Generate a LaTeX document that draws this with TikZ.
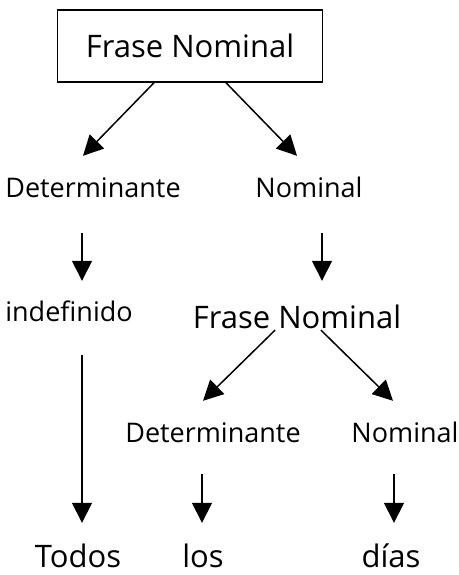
\documentclass[tikz,border=0pt]{standalone}
\usepackage{fontspec}
\setmainfont{Open Sans}
\usetikzlibrary{arrows.meta}
\begin{document}
\begin{tikzpicture}[x=1pt,y=-1pt,
    lbl/.style={inner sep=0pt,text height=20pt,text depth=0pt,anchor=base,font=\fontsize{27}{32}\selectfont},
    big/.style={lbl,font=\fontsize{31}{36}\selectfont},
    arr/.style={line width=1.5pt,-{Triangle[length=20pt,width=20pt]}}]
      \useasboundingbox (0,0) rectangle (458,575);
      % Nodes: top level
      \node[draw,line width=1.5pt,minimum width=265pt,minimum height=72pt,inner sep=0pt,font=\fontsize{31}{36}\selectfont] (FN1) at (190,46) {Frase Nominal};
      \node[lbl] (Det1) at (93,197) {Determinante};
      \node[lbl] (Nom1) at (309,197) {Nominal};
      % Nodes: middle level
      \node[lbl] (Ind) at (69,321) {indefinido};
      \node[big] (FN2) at (297,328) {Frase Nominal};
      \node[lbl] (Det2) at (213,442) {Determinante};
      \node[lbl] (Nom2) at (405,442) {Nominal};
      % Nodes: words
      \node[big] (Todos) at (78,567) {Todos};
      \node[big] (los) at (203,567) {los};
      \node[big] (dias) at (391,567) {días};
      % Arrows: level 1 to 2
      \draw[arr] ([xshift=-36pt]FN1.south) -- ([xshift=-10pt,yshift=21pt]Det1.north);
      \draw[arr] ([xshift=36pt]FN1.south) -- ([xshift=-12pt,yshift=21pt]Nom1.north);
      % Arrows: level 2 to 3
      \draw[arr] ([xshift=-11pt,yshift=-36pt]Det1.south) -- ([xshift=13pt,yshift=20pt]Ind.north);
      \draw[arr] ([xshift=13pt,yshift=-36pt]Nom1.south) -- ([xshift=25pt,yshift=27pt]FN2.north);
      % Arrows: level 3 down
      \draw[arr] ([xshift=13pt,yshift=-34pt]Ind.south) -- ([xshift=4pt,yshift=24pt]Todos.north);
      \draw[arr] ([xshift=-22pt,yshift=-2pt]FN2.south) -- ([xshift=-10pt,yshift=21pt]Det2.north);
      \draw[arr] ([xshift=24pt,yshift=-2pt]FN2.south) -- ([xshift=-12pt,yshift=21pt]Nom2.north);
      \draw[arr] ([xshift=-11pt,yshift=-32pt]Det2.south) -- ([xshift=-1pt,yshift=24pt]los.north);
      \draw[arr] ([xshift=-11pt,yshift=-32pt]Nom2.south) -- ([xshift=3pt,yshift=24pt]dias.north);
\end{tikzpicture}
\end{document}
